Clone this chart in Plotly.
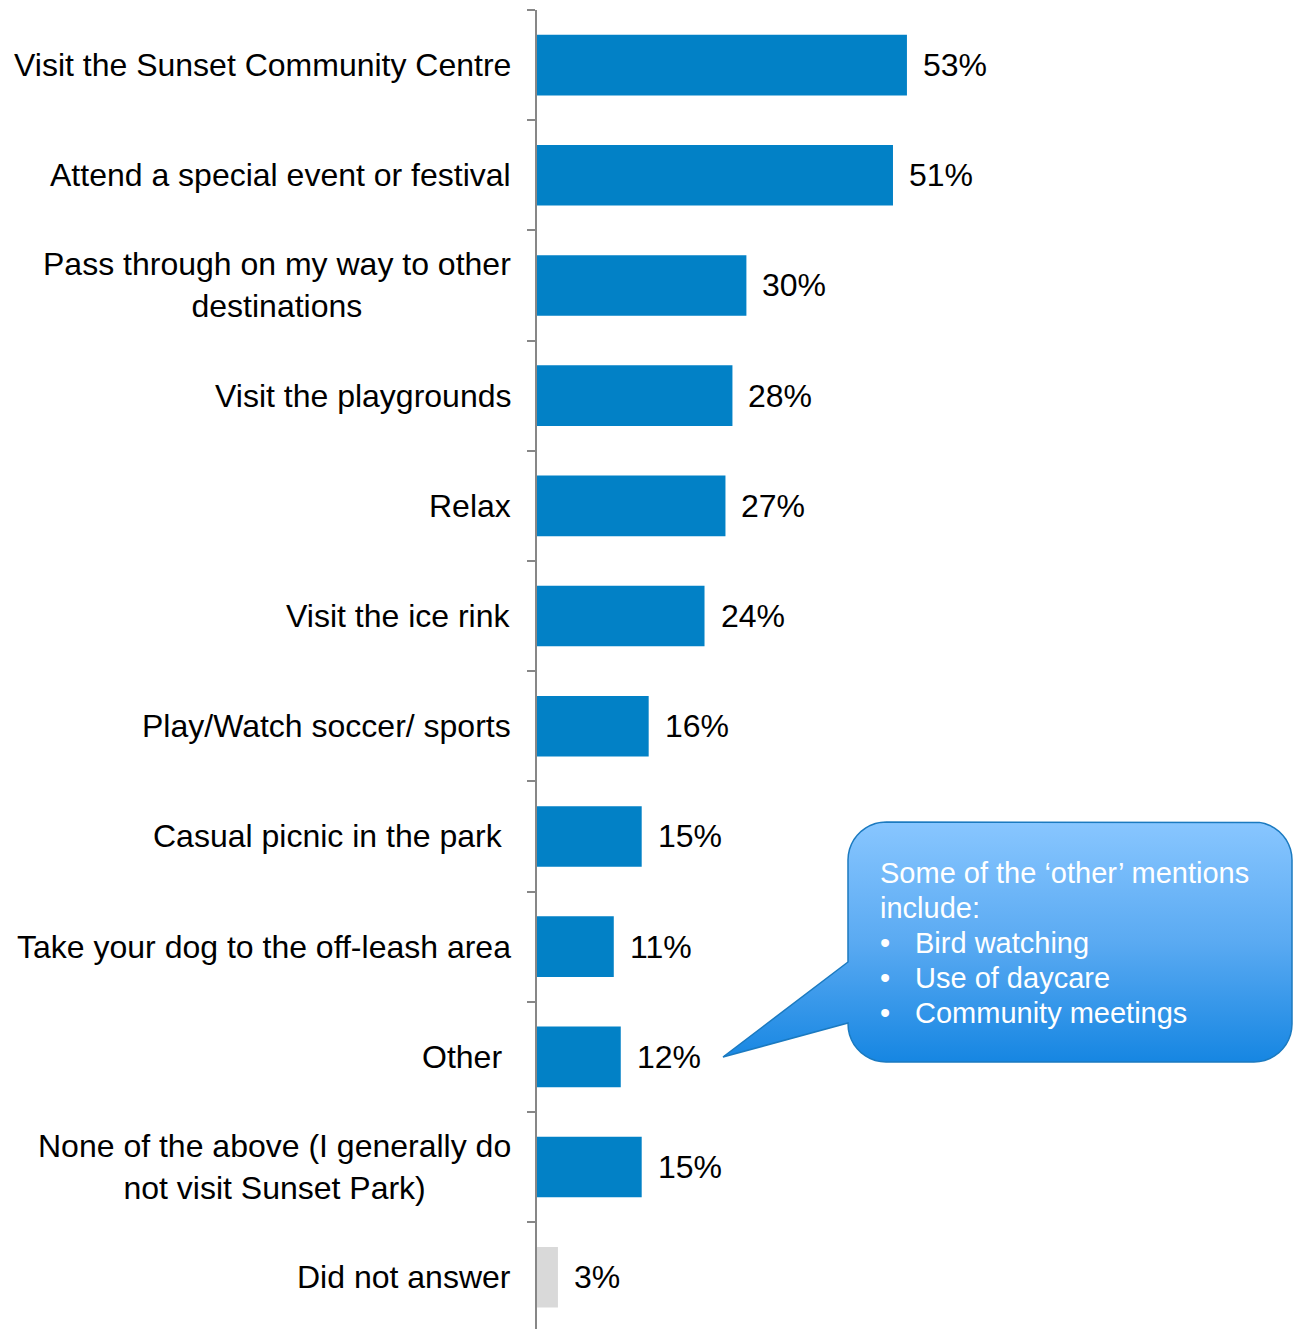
import numpy as np
import plotly.graph_objects as go

W, H = 1293, 1329

categories = [
    "Visit the Sunset Community Centre",
    "Attend a special event or festival",
    "Pass through on my way to other<br>destinations",
    "Visit the playgrounds",
    "Relax",
    "Visit the ice rink",
    "Play/Watch soccer/ sports",
    "Casual picnic in the park\u00a0",
    "Take your dog to the off-leash area",
    "Other\u00a0",
    "None of the above (I generally do<br>not visit Sunset Park)",
    "Did not answer",
]
values = [53, 51, 30, 28, 27, 24, 16, 15, 11, 12, 15, 3]
bar_colors = ["#0281C6"] * 11 + ["#D9D9D9"]

callout_title = ["Some of the \u2018other\u2019 mentions", "include:"]
callout_items = ["Bird watching", "Use of daycare", "Community meetings"]

FONT = "Liberation Sans, Arial, sans-serif"

fig = go.Figure()
fig.add_trace(go.Bar(
    y=categories, x=values, orientation="h",
    marker=dict(color=bar_colors, line=dict(width=0)),
    width=0.55, hoverinfo="skip",
))

# Category labels (centered multi-line, right anchored)
for c in categories:
    fig.add_annotation(x=0, y=c, xref="x", yref="y", text=c, showarrow=False,
                       xanchor="right", yanchor="middle", xshift=-24, align="center",
                       font=dict(family=FONT, size=32, color="#000000"))
# Value labels
for c, v in zip(categories, values):
    fig.add_annotation(x=v, y=c, xref="x", yref="y", text=f"{v}%", showarrow=False,
                       xanchor="left", yanchor="middle", xshift=14,
                       font=dict(family=FONT, size=32, color="#000000"))

# Callout shape (decoration) in pixel space on overlay axes
x0, x1, y0, y1, r = 848, 1292, 822, 1062, 38
tip = (723, 1057)
ty_top, ty_bot = 962, 1023

def arc(cx, cy, a0, a1, n=12):
    t = np.linspace(np.radians(a0), np.radians(a1), n)
    return list(cx + r * np.cos(t)), list(cy + r * np.sin(t))

px, py = [], []
def add(xs, ys):
    px.extend(xs); py.extend(ys)

add([x0 + r, x1 - r], [y0, y0])
add(*arc(x1 - r, y0 + r, -90, 0))
add([x1, x1], [y0 + r, y1 - r])
add(*arc(x1 - r, y1 - r, 0, 90))
add([x1 - r, x0 + r], [y1, y1])
add(*arc(x0 + r, y1 - r, 90, 180))
add([x0, tip[0], x0, x0], [ty_bot, tip[1], ty_top, y0 + r])
add(*arc(x0 + r, y0 + r, 180, 270))

fig.add_trace(go.Scatter(
    x=px, y=py, xaxis="x2", yaxis="y2", mode="lines", fill="toself",
    line=dict(color="#1B7AC0", width=1.5),
    fillgradient=dict(type="vertical", start=y0, stop=y1,
                      colorscale=[[0, "#88C6FF"], [0.5, "#5AAAF2"], [1, "#1686E2"]]),
    hoverinfo="skip", showlegend=False,
))

white = dict(family=FONT, size=29, color="#FFFFFF")
line_y = [873, 908, 943, 978, 1013]
for i, t in enumerate(callout_title):
    fig.add_annotation(x=878, y=line_y[i], xref="x2", yref="y2", text=t, showarrow=False,
                       xanchor="left", yanchor="middle", font=white)
for j, t in enumerate(callout_items):
    yy = line_y[2 + j]
    fig.add_annotation(x=878, y=yy, xref="x2", yref="y2", text="\u2022", showarrow=False,
                       xanchor="left", yanchor="middle", font=white)
    fig.add_annotation(x=913, y=yy, xref="x2", yref="y2", text=t, showarrow=False,
                       xanchor="left", yanchor="middle", font=white)

ax_left = 537 / W
fig.update_layout(
    width=W, height=H, margin=dict(l=0, r=0, t=0, b=0),
    paper_bgcolor="white", plot_bgcolor="rgba(0,0,0,0)",
    showlegend=False, bargap=0.45,
    xaxis=dict(domain=[ax_left, (537 + 698) / W], range=[0, 100], visible=False, fixedrange=True),
    yaxis=dict(domain=[0, 1 - 10 / H], type="category",
               range=[11.47, -0.5], showticklabels=False, tickson="boundaries",
               ticks="outside", ticklen=8, tickwidth=2, tickcolor="#878787",
               showline=True, linecolor="#878787", linewidth=2, showgrid=False, zeroline=False,
               anchor="x", fixedrange=True),
    xaxis2=dict(domain=[0, 1], range=[0, W], visible=False, anchor="y2", fixedrange=True),
    yaxis2=dict(domain=[0, 1], range=[H, 0], visible=False, anchor="x2", fixedrange=True),
)

fig.write_html("out.html", config={"displayModeBar": False},
               post_script="document.body.style.margin='0';document.body.style.overflow='hidden';")
